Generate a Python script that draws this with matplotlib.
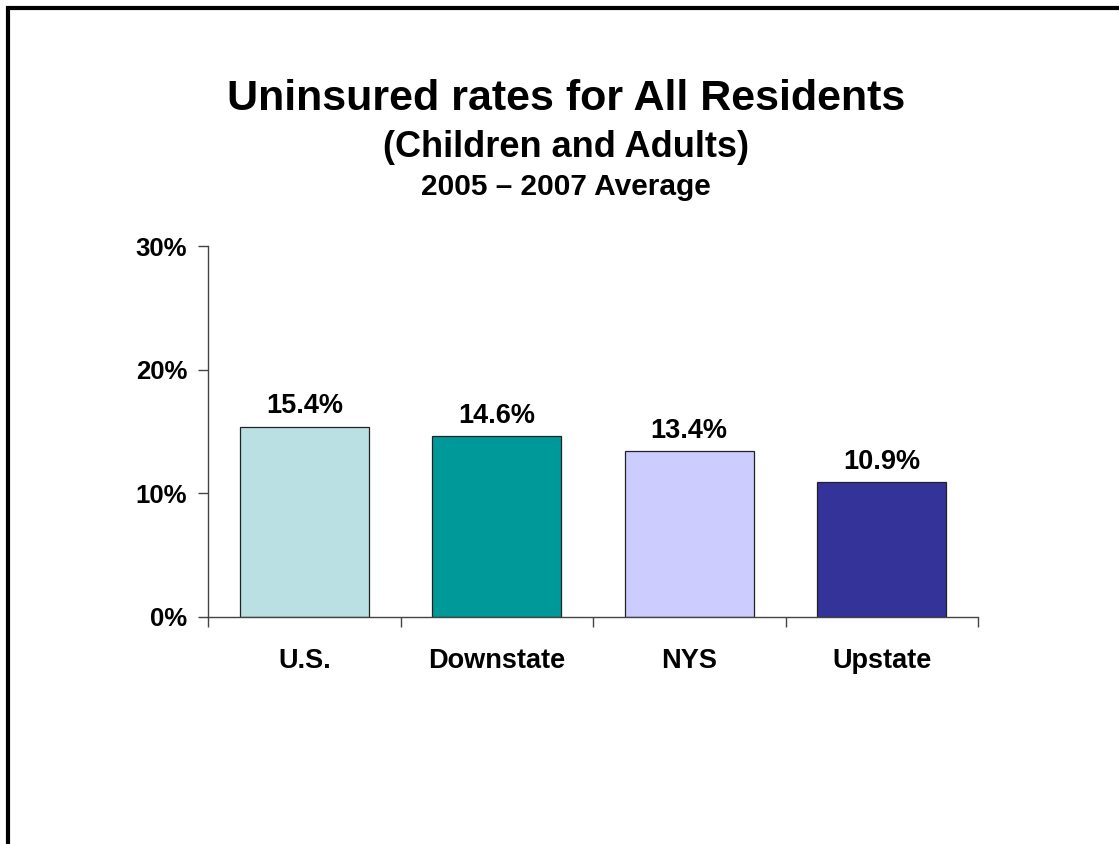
import matplotlib
matplotlib.use("Agg")
import matplotlib.pyplot as plt
from matplotlib.lines import Line2D
from matplotlib.ticker import FixedLocator, FuncFormatter

regions = ["U.S.", "Downstate", "NYS", "Upstate"]
uninsured_pct = [15.4, 14.6, 13.4, 10.9]
bar_colors = ["#BBE0E3", "#009999", "#CCCCFF", "#333399"]
y_ticks = [0, 10, 20, 30]

plt.rcParams["font.family"] = ["Liberation Sans", "DejaVu Sans"]
plt.rcParams["font.weight"] = "bold"

W, H = 1119, 844
fig = plt.figure(figsize=(W / 100, H / 100), dpi=100)
fig.patch.set_facecolor("white")

# plot area in pixel coords
left, right, top, bottom = 208, 978, 246, 617
ax = fig.add_axes([left / W, 1 - bottom / H, (right - left) / W, (bottom - top) / H])

x = list(range(len(regions)))
ax.bar(x, uninsured_pct, width=0.67, color=bar_colors,
       edgecolor="#222222", linewidth=0.9, zorder=2)

for xi, v in zip(x, uninsured_pct):
    ax.annotate("%.1f%%" % v, (xi, v), xytext=(0, 9.5), textcoords="offset points",
                ha="center", va="baseline", fontsize=19.5, fontweight="bold")

ax.set_xlim(-0.5, len(regions) - 0.5)
ax.set_ylim(0, 30)

for s in ("top", "right"):
    ax.spines[s].set_visible(False)
for s in ("left", "bottom"):
    ax.spines[s].set_color("#444444")
    ax.spines[s].set_linewidth(1.0)

# category labels centred, tick marks on category boundaries
ax.xaxis.set_major_locator(FixedLocator(x))
ax.set_xticklabels(regions, fontsize=19.5, fontweight="bold")
ax.xaxis.set_minor_locator(FixedLocator([i - 0.5 for i in range(len(regions) + 1)]))
ax.tick_params(axis="x", which="major", length=0, pad=22)
ax.tick_params(axis="x", which="minor", length=7, width=1.0, color="#444444", direction="out")

ax.set_yticks(y_ticks)
ax.yaxis.set_major_formatter(FuncFormatter(lambda v, p: "%d%%" % v))
ax.tick_params(axis="y", length=7, width=1.0, color="#444444", direction="out",
               pad=8, labelsize=18.5)
for lbl in ax.get_yticklabels():
    lbl.set_fontweight("bold")

fig.text(0.506, 1 - 110 / H, "Uninsured rates for All Residents",
         ha="center", va="baseline", fontsize=31, fontweight="bold")
fig.text(0.506, 1 - 157 / H, "(Children and Adults)",
         ha="center", va="baseline", fontsize=26, fontweight="bold")
fig.text(0.506, 1 - 195 / H, "2005 \u2013 2007 Average",
         ha="center", va="baseline", fontsize=21.5, fontweight="bold")

# frame on the left and top edges
bx, by = 8 / W, 1 - 8 / H
fig.add_artist(Line2D([bx, bx, 1.0], [0.0, by, by], transform=fig.transFigure,
                      color="black", linewidth=3.0, solid_joinstyle="miter"))

fig.savefig("out.png", dpi=100, facecolor="white")
